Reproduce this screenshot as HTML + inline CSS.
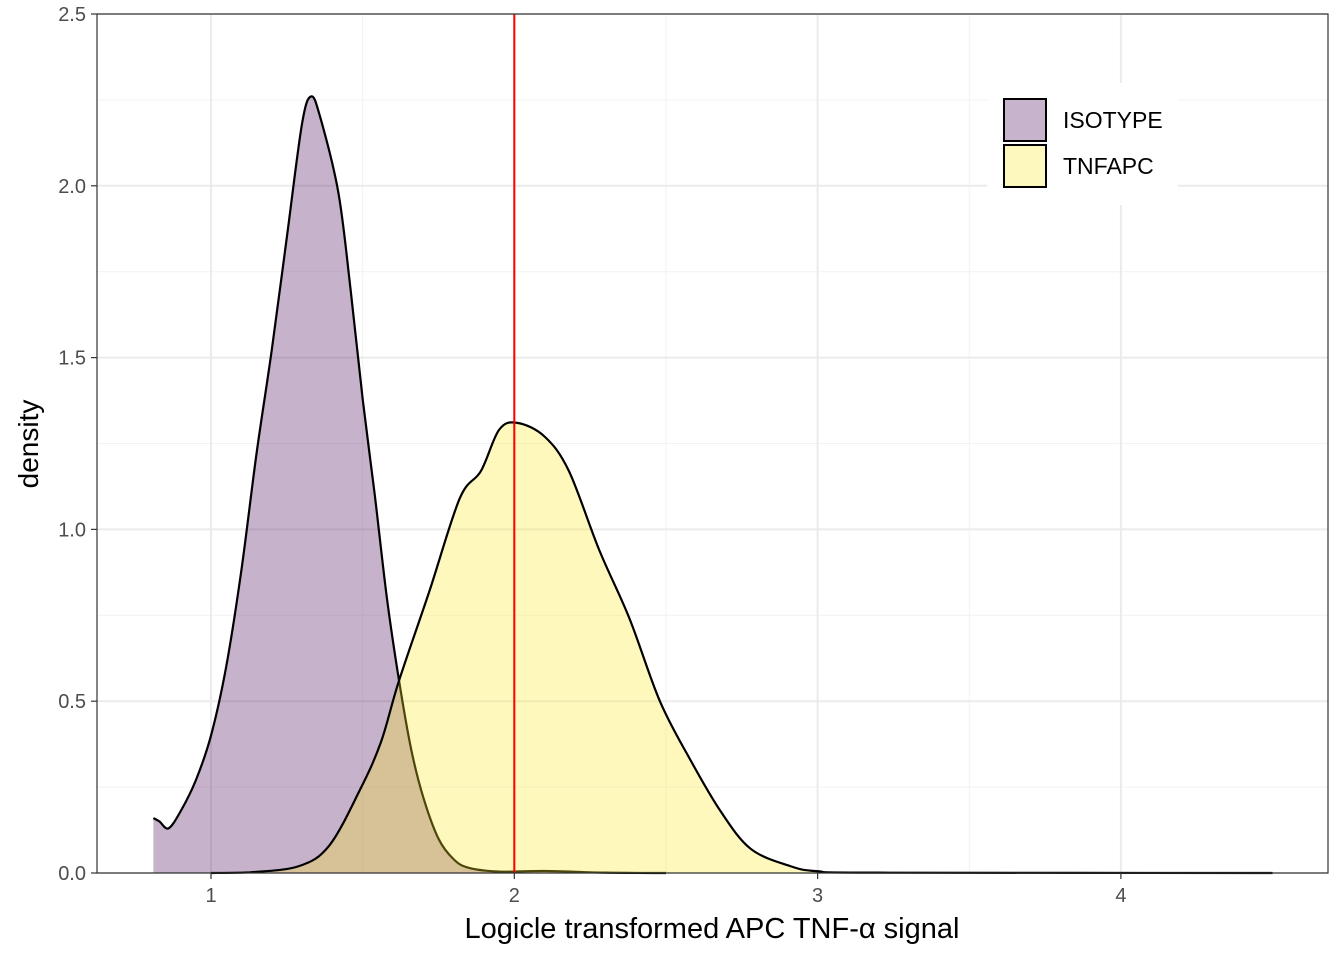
<!DOCTYPE html>
<html><head><meta charset="utf-8"><style>
body{margin:0;background:#fff;font-family:"Liberation Sans",sans-serif}
</style></head><body>
<svg id="chart" width="1344" height="960" xmlns="http://www.w3.org/2000/svg">
<g id="grid"></g><g id="areas"></g><g id="axes"></g>
</svg>
<script>
const isoX=[0.81,0.83,0.86,0.9,0.95,1.0,1.05,1.1,1.15,1.2,1.25,1.3,1.33,1.36,1.42,1.46,1.5,1.54,1.58,1.62,1.66,1.7,1.75,1.8,1.85,1.95,2.1,2.3,2.5];
const isoY=[0.16,0.15,0.13,0.18,0.27,0.40,0.60,0.88,1.22,1.52,1.85,2.18,2.26,2.20,1.98,1.70,1.38,1.10,0.80,0.56,0.36,0.22,0.10,0.04,0.015,0.004,0.006,0.001,0];
const tnfX=[1.0,1.13,1.29,1.39,1.49,1.56,1.62,1.72,1.82,1.89,1.95,2.01,2.1,2.18,2.28,2.38,2.48,2.58,2.68,2.78,2.91,3.0,3.2,4.5];
const tnfY=[0,0.002,0.02,0.08,0.24,0.38,0.56,0.82,1.09,1.17,1.29,1.31,1.27,1.17,0.94,0.74,0.50,0.33,0.18,0.07,0.02,0.005,0.001,0];
const xTicks=[1,2,3,4];
const yTicks=[0,0.5,1.0,1.5,2.0,2.5];
const vline=2.0;
const NS="http://www.w3.org/2000/svg";
const L=97,R=1328,T=14,B=873;
const sx=v=>211+(v-1)*303.3;
const sy=v=>B-v*(B-T)/2.5;
function mk(tag,attrs,parent){const e=document.createElementNS(NS,tag);for(const k in attrs)e.setAttribute(k,attrs[k]);parent.appendChild(e);return e;}
const grid=document.getElementById('grid'),areas=document.getElementById('areas'),axes=document.getElementById('axes');
mk('rect',{x:L,y:T,width:R-L,height:B-T,fill:'#fff'},grid);
[0.25,0.75,1.25,1.75,2.25].forEach(v=>{const l=mk('line',{x1:L,x2:R,y1:sy(v),y2:sy(v),stroke:'#f2f2f2','stroke-width':1},grid);

});
[1.5,2.5,3.5].forEach(v=>{const l=mk('line',{x1:sx(v),x2:sx(v),y1:T,y2:B,stroke:'#f2f2f2','stroke-width':1},grid);

});
yTicks.forEach(v=>{const l=mk('line',{x1:L,x2:R,y1:sy(v),y2:sy(v),stroke:'#ebebeb','stroke-width':2},grid);

});
xTicks.forEach(v=>{const l=mk('line',{x1:sx(v),x2:sx(v),y1:T,y2:B,stroke:'#ebebeb','stroke-width':2},grid);

});
function smooth(pts){
 let d='';
 for(let i=0;i<pts.length-1;i++){
  const p0=pts[Math.max(0,i-1)],p1=pts[i],p2=pts[i+1],p3=pts[Math.min(pts.length-1,i+2)];
  const c1=[p1[0]+(p2[0]-p0[0])/6,p1[1]+(p2[1]-p0[1])/6];
  const c2=[p2[0]-(p3[0]-p1[0])/6,p2[1]-(p3[1]-p1[1])/6];
  c1[1]=Math.min(c1[1],B);c2[1]=Math.min(c2[1],B);
  d+=' C'+c1[0]+','+c1[1]+' '+c2[0]+','+c2[1]+' '+p2[0]+','+p2[1];
 }
 return d;
}
function area(xs,ys,fill,name){
 const pts=xs.map((x,i)=>[sx(x),sy(ys[i])]);
 const curve=smooth(pts);
 const d='M'+pts[0][0]+','+sy(0)+' L'+pts[0][0]+','+pts[0][1]+curve+' L'+pts[pts.length-1][0]+','+sy(0)+'Z';
 const p=mk('path',{d:d,fill:fill,'fill-opacity':0.3,stroke:'none'},areas);
 
 
 const o=mk('path',{d:'M'+pts[0][0]+','+pts[0][1]+curve,fill:'none',stroke:'#000','stroke-width':2.2,'stroke-linejoin':'round'},areas);
 
 
}
area(isoX,isoY,'#440154','isotype');
area(tnfX,tnfY,'#FDE725','tnfapc');
const vl=mk('line',{x1:sx(vline),x2:sx(vline),y1:T,y2:B,stroke:'#ff0000','stroke-width':2},areas);


const fr=mk('rect',{x:L,y:T,width:R-L,height:B-T,fill:'none',stroke:'#333','stroke-width':1.2},axes);


yTicks.forEach(v=>{mk('line',{x1:L-6,x2:L,y1:sy(v),y2:sy(v),stroke:'#333','stroke-width':1.2},axes);
 const t=mk('text',{x:L-11,y:sy(v)+7,'text-anchor':'end','font-size':20,fill:'#4d4d4d'},axes);t.textContent=v.toFixed(1);
 
 });
xTicks.forEach(v=>{mk('line',{x1:sx(v),x2:sx(v),y1:B,y2:B+6,stroke:'#333','stroke-width':1.2},axes);
 const t=mk('text',{x:sx(v),y:B+29,'text-anchor':'middle','font-size':20,fill:'#4d4d4d'},axes);t.textContent=v;
 
 });
</script>
<svg width="1344" height="960" style="position:absolute;left:0;top:0">
<text x="712" y="938" text-anchor="middle" font-size="29" fill="#000" font-family="Liberation Sans, sans-serif">Logicle transformed APC TNF-α signal</text>
<text transform="translate(38,444) rotate(-90)" text-anchor="middle" font-size="28" fill="#000" font-family="Liberation Sans, sans-serif">density</text>
<g>
<rect x="987" y="83" width="191" height="122" fill="#fff"/>
<rect x="1004" y="99" width="42" height="42" fill="#C7B3CC" stroke="#000" stroke-width="2"/>
<rect x="1004" y="145" width="42" height="42" fill="#FDF8BE" stroke="#000" stroke-width="2"/>
<text x="1063" y="128" font-size="23" font-family="Liberation Sans, sans-serif">ISOTYPE</text>
<text x="1063" y="174" font-size="23" font-family="Liberation Sans, sans-serif">TNFAPC</text>
</g>
</svg>
</body></html>
